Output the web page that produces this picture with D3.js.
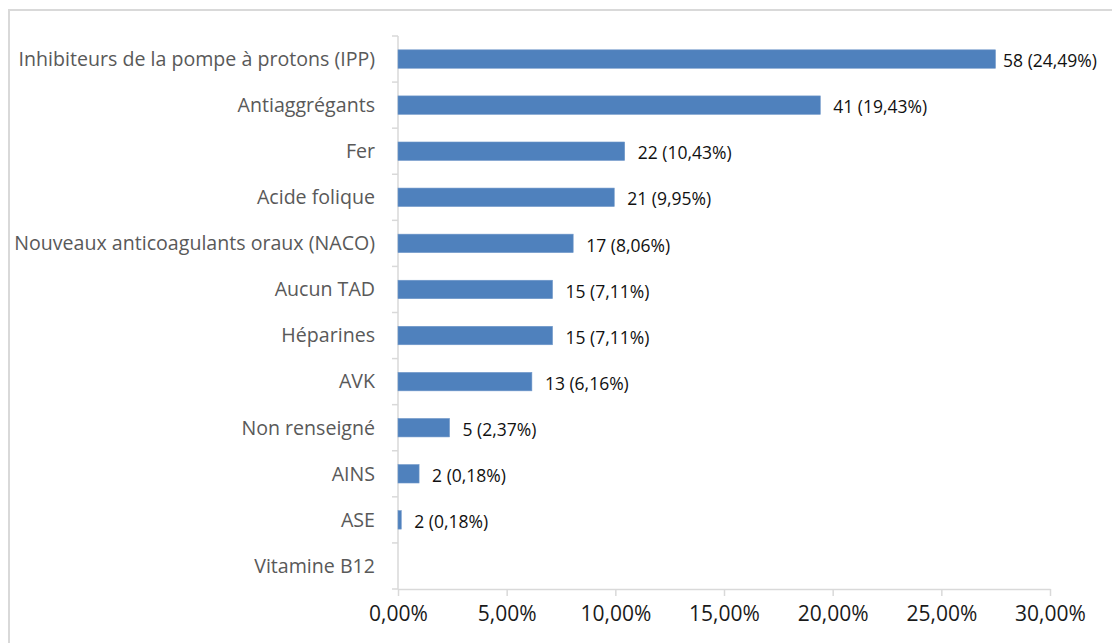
<!DOCTYPE html>
<meta charset="utf-8">
<title>Traitements</title>
<style>
  body { margin: 0; background: #fff; }
  svg text { font-family: "Open Sans", Lato, sans-serif; }
</style>
<script src="https://d3js.org/d3.v7.min.js"></script>
<div id="chart"></div>
<script>
// categories, top to bottom
var categories = [
  "Inhibiteurs de la pompe à protons (IPP)",
  "Antiaggrégants",
  "Fer",
  "Acide folique",
  "Nouveaux anticoagulants oraux (NACO)",
  "Aucun TAD",
  "Héparines",
  "AVK",
  "Non renseigné",
  "AINS",
  "ASE",
  "Vitamine B12"
];
// bar length as drawn (percent)
var barValues = [27.49, 19.43, 10.43, 9.95, 8.06, 7.11, 7.11, 6.16, 2.37, 0.97, 0.15, 0];
// data label pieces
var counts = [58, 41, 22, 21, 17, 15, 15, 13, 5, 2, 2, null];
var pctLabels = ["24,49%", "19,43%", "10,43%", "9,95%", "8,06%", "7,11%", "7,11%", "6,16%", "2,37%", "0,18%", "0,18%", ""];
var xTicks = [0, 5, 10, 15, 20, 25, 30];

var W = 1112, H = 643;
var svg = d3.select("#chart").append("svg").attr("width", W).attr("height", H);

// outer frame (cut by the picture edge on the right and bottom)
svg.append("rect")
  .attr("x", 9).attr("y", 10).attr("width", W + 20).attr("height", H + 20)
  .attr("fill", "none").attr("stroke", "#d9d9d9").attr("stroke-width", 2);

var x = d3.scaleLinear().domain([0, 30]).range([398, 1050]);
var y = d3.scaleBand().domain(categories).range([36, 589])
  .paddingInner(0.6).paddingOuter(0.3);

var step = y.step();

// x axis
var xAxis = svg.append("g")
  .attr("transform", "translate(0,589)")
  .call(d3.axisBottom(x).tickValues(xTicks).tickSize(7).tickSizeOuter(0)
    .tickFormat(function(d) { return d.toFixed(2).replace(".", ",") + "%"; }));
xAxis.select(".domain").attr("stroke", "#d9d9d9").attr("stroke-width", 1.5);
xAxis.selectAll(".tick line").attr("stroke", "#d9d9d9").attr("stroke-width", 1.5);
xAxis.selectAll(".tick text")
  .attr("y", 17).attr("fill", "#1a1a1a")
  .style("font-size", "21px")
  .style("font-family", "'Open Sans', Lato, sans-serif");

// y axis line and ticks at category boundaries
var yAxis = svg.append("g");
yAxis.append("line")
  .attr("x1", x(0)).attr("x2", x(0)).attr("y1", 36).attr("y2", 589)
  .attr("stroke", "#d9d9d9").attr("stroke-width", 1.5);
var bounds = categories.map(function(c) { return y(c) + y.bandwidth() / 2 - step / 2; });
bounds.push(589);
yAxis.selectAll("line.tk").data(bounds).enter().append("line")
  .attr("class", "tk")
  .attr("x1", x(0) - 6).attr("x2", x(0))
  .attr("y1", function(d) { return d; }).attr("y2", function(d) { return d; })
  .attr("stroke", "#d9d9d9").attr("stroke-width", 1.5);

// category labels
svg.selectAll("text.cat").data(categories).enter().append("text")
  .attr("class", "cat")
  .attr("x", 375)
  .attr("y", function(d) { return y(d) + y.bandwidth() / 2; })
  .attr("dy", "0.35em")
  .attr("text-anchor", "end")
  .style("font-size", "19.6px")
  .attr("fill", "#595959")
  .text(function(d) { return d; });

// bars
svg.selectAll("rect.bar").data(categories).enter().append("rect")
  .attr("class", "bar")
  .attr("x", x(0))
  .attr("y", function(d) { return y(d); })
  .attr("width", function(d, i) { return x(barValues[i]) - x(0); })
  .attr("height", y.bandwidth())
  .attr("fill", "#4f81bd")
  .attr("stroke", "#6f97c9")
  .attr("stroke-width", 0.6);

// value labels
svg.selectAll("text.val").data(categories).enter().append("text")
  .attr("class", "val")
  .attr("y", function(d) { return y(d) + y.bandwidth() / 2 + 2; })
  .attr("dy", "0.35em")
  .style("font-size", "17.5px")
  .attr("fill", "#111")
  .text(function(d, i) { return counts[i] == null ? "" : counts[i] + " (" + pctLabels[i] + ")"; })
  .attr("x", function(d, i) {
    var w = this.getComputedTextLength();
    return Math.min(x(barValues[i]) + 13, 1097 - w);
  });
</script>
